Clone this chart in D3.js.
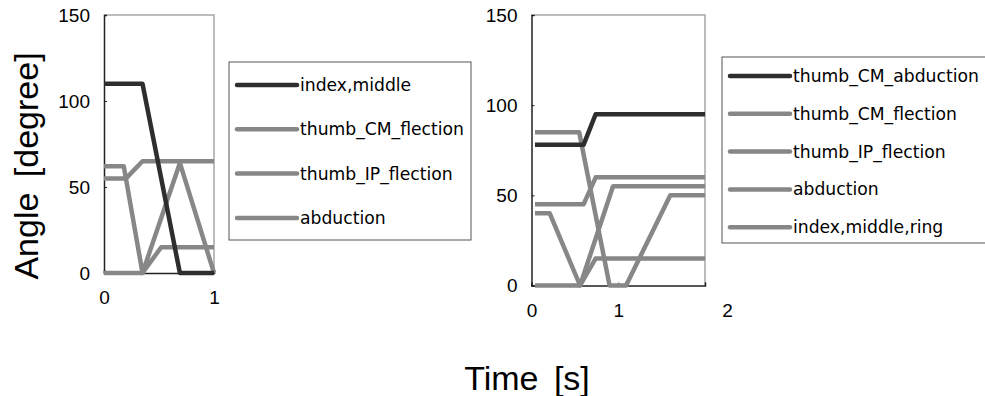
<!DOCTYPE html>
<html>
<head>
<meta charset="utf-8">
<script src="https://cdn.jsdelivr.net/npm/d3@7"></script>
<style>
  body { margin: 0; background: #fff; }
  text { font-family: "DejaVu Sans", sans-serif; fill: #000; }
</style>
</head>
<body>
<div id="chart"></div>
<script>
// ---- data ----
var yTicks = [0, 50, 100, 150];

// left panel (0..1 s)
var leftXTicks = [0, 1];
var leftNames = ["index,middle", "thumb_CM_flection", "thumb_IP_flection", "abduction"];
var leftIndexMiddle = [[0, 110], [0.35, 110], [0.69, 0], [1, 0]];
var leftCMflection = [[0, 62], [0.18, 62], [0.35, 0], [0.69, 64], [1, 0]];
var leftIPflection = [[0, 55], [0.2, 55], [0.35, 65], [1, 65]];
var leftAbduction = [[0, 0], [0.35, 0], [0.52, 15], [1, 15]];

// right panel (0..2 s)
var rightXTicks = [0, 1, 2];
var rightNames = ["thumb_CM_abduction", "thumb_CM_flection", "thumb_IP_flection", "abduction", "index,middle,ring"];
var rightCMabduction = [[0.04, 78], [0.6, 78], [0.74, 95], [2, 95]];
var rightCMflection = [[0.04, 45], [0.6, 45], [0.74, 60], [2, 60]];
var rightIPflection = [[0.04, 40], [0.21, 40], [0.56, 0], [0.94, 55], [2, 55]];
var rightAbduction = [[0.04, 0], [0.56, 0], [0.74, 15], [2, 15]];
var rightIndexMiddleRing = [[0.04, 85], [0.55, 85], [0.9, 0], [1.09, 0], [1.6, 50], [2, 50]];

var colors = ["#2e2e2e", "#878787", "#878787", "#878787", "#878787"];

var W = 985, H = 396;
var svg = d3.select("#chart").append("svg")
    .attr("width", W)
    .attr("height", H);

function drawPanel(opt) {
    var x = d3.scaleLinear().domain(opt.xDomain).range([opt.left, opt.right]);
    var y = d3.scaleLinear().domain([0, 150]).range([opt.bottom, opt.top]);
    var g = svg.append("g");

    // light frame (top + right)
    g.append("path")
        .attr("d", "M" + opt.left + "," + opt.top + "H" + opt.right + "V" + opt.bottom)
        .attr("fill", "none")
        .attr("stroke", "#a6a6a6")
        .attr("stroke-width", 1.5);

    // y axis, ticks pointing inside
    var ya = g.append("g")
        .attr("transform", "translate(" + opt.left + ",0)")
        .call(d3.axisLeft(y).tickValues(yTicks).tickSize(-3).tickPadding(14));
    ya.select(".domain").attr("stroke", "#222").attr("stroke-width", 1.5);
    ya.selectAll(".tick line").attr("stroke", "#222");
    ya.selectAll("text").style("font-size", "19px").style("font-family", "Liberation Sans");

    // x axis
    var xa = g.append("g")
        .attr("transform", "translate(0," + opt.bottom + ")")
        .call(d3.axisBottom(x).tickValues(opt.xTicks).tickFormat(d3.format("d")).tickSize(-3).tickPadding(18));
    xa.select(".domain").attr("stroke", "#222").attr("stroke-width", 1.5);
    xa.selectAll(".tick line").attr("stroke", "#222");
    xa.selectAll("text").style("font-size", "19px").style("font-family", "Liberation Sans");
    if (opt.lastTickShift) {
        xa.selectAll(".tick").filter(function (d) { return d === opt.xDomain[1]; })
            .select("text").attr("dx", opt.lastTickShift);
    }

    var line = d3.line()
        .x(function (d) { return x(d[0]); })
        .y(function (d) { return y(d[1]); });

    // grey ones first, dark one on top
    var order = d3.range(opt.series.length).slice(1).concat([0]);
    order.forEach(function (i) {
        g.append("path")
            .datum(opt.series[i])
            .attr("d", line)
            .attr("fill", "none")
            .attr("stroke", colors[i])
            .attr("stroke-width", 4.5)
            .attr("stroke-linejoin", "round");
    });

    // legend
    var lg = opt.legend;
    g.append("rect")
        .attr("x", lg.x).attr("y", lg.y)
        .attr("width", lg.w).attr("height", lg.h)
        .attr("fill", "#fff")
        .attr("stroke", "#555")
        .attr("stroke-width", 1);
    opt.names.forEach(function (name, i) {
        var yy = lg.y + lg.first + i * lg.step;
        g.append("line")
            .attr("x1", lg.x + 8).attr("x2", lg.x + 68)
            .attr("y1", yy).attr("y2", yy)
            .attr("stroke", colors[i])
            .attr("stroke-width", 4.5)
            .attr("stroke-linecap", "round");
        g.append("text")
            .attr("x", lg.x + 71).attr("y", yy)
            .attr("dy", "0.35em")
            .style("font-size", "17.2px")
            .text(name);
    });
}

drawPanel({
    left: 104, right: 214, top: 15, bottom: 273,
    xDomain: [0, 1], xTicks: leftXTicks,
    series: [leftIndexMiddle, leftCMflection, leftIPflection, leftAbduction],
    names: leftNames,
    legend: { x: 229, y: 62, w: 242, h: 178, first: 23, step: 44.3 }
});

drawPanel({
    left: 531.5, right: 705, top: 15, bottom: 285.5,
    xDomain: [0, 2], xTicks: rightXTicks, lastTickShift: 22,
    series: [rightCMabduction, rightCMflection, rightIPflection, rightAbduction, rightIndexMiddleRing],
    names: rightNames,
    legend: { x: 722, y: 57, w: 270, h: 186, first: 19, step: 37.8 }
});

// axis titles
svg.append("text")
    .attr("transform", "translate(38,166) rotate(-90)")
    .attr("text-anchor", "middle")
    .style("font-family", "Liberation Sans")
    .style("font-size", "34px")
    .style("word-spacing", "6px")
    .text("Angle [degree]");

svg.append("text")
    .attr("x", 527).attr("y", 390)
    .attr("text-anchor", "middle")
    .style("font-family", "Liberation Sans")
    .style("font-size", "34px")
    .style("word-spacing", "6px")
    .text("Time [s]");
</script>
</body>
</html>
